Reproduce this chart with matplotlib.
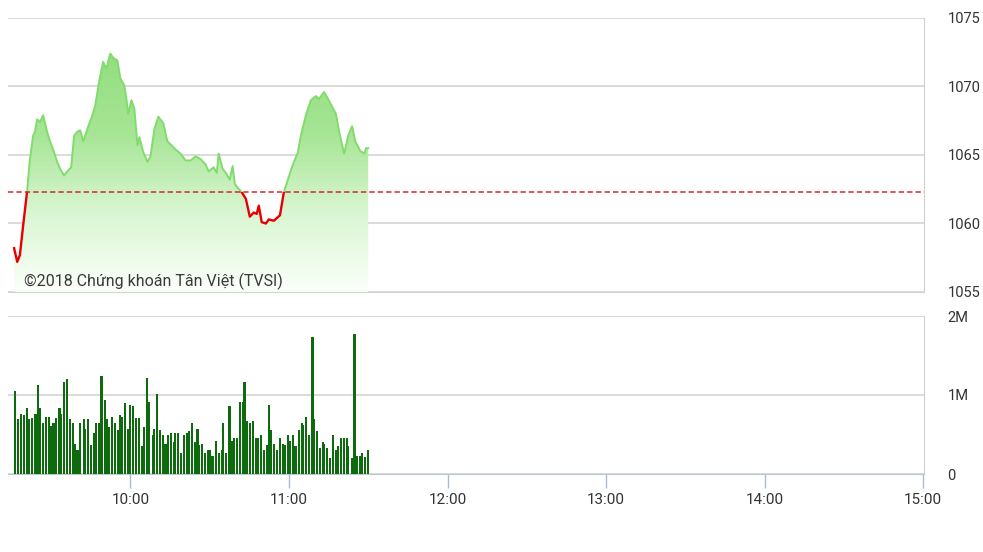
#!/usr/bin/env python3

import numpy as np
import matplotlib
matplotlib.use('Agg')
import matplotlib.pyplot as plt
from matplotlib.colors import LinearSegmentedColormap
from matplotlib.patches import Rectangle

# minutes after 09:00
price_min = [16.0, 17.2, 18.2, 19.4, 20.9, 22.0, 23.2, 23.9, 24.7, 25.8, 27.0,
             28.5, 29.6, 30.8, 32.3, 33.4, 34.9, 36.1, 37.6, 38.7, 39.9, 41.0,
             42.2, 43.7, 45.6, 46.7, 48.2, 49.7, 50.9, 52.4, 53.5, 55.1, 56.2,
             57.7, 58.5, 59.2, 60.4, 61.5, 62.7, 63.4, 64.9, 66.5, 67.6, 69.1,
             70.6, 72.5, 74.0, 75.6, 77.1, 79.0, 80.9, 82.8, 84.7, 86.6, 88.5,
             89.6, 91.5, 92.7, 93.4, 94.9, 96.1, 97.6, 98.7, 99.5, 100.6, 102.1,
             103.7, 105.2, 106.7, 107.8, 108.6, 109.7, 111.3, 112.4, 114.3,
             116.6, 118.1, 119.6, 121.5, 123.4, 124.5, 126.4, 128.3, 130.2,
             131.4, 133.3, 134.8, 136.7, 137.8, 139.0, 140.9, 142.4, 143.9,
             145.1, 147.0, 148.5, 149.2, 150.0]
price = [1058.2, 1057.2, 1057.7, 1059.8, 1062.3, 1064.7, 1066.4, 1066.7, 1067.6,
         1067.4, 1067.9, 1066.7, 1066.0, 1065.4, 1064.5, 1064.0, 1063.5, 1063.8,
         1064.1, 1066.4, 1066.7, 1066.8, 1066.0, 1066.9, 1067.9, 1068.6, 1070.4,
         1071.8, 1071.3, 1072.4, 1072.1, 1071.9, 1070.6, 1070.1, 1069.1, 1068.0,
         1069.0, 1068.4, 1065.7, 1066.3, 1065.2, 1064.5, 1064.9, 1066.9, 1067.8,
         1067.3, 1066.0, 1065.7, 1065.4, 1065.1, 1064.6, 1064.6, 1064.9, 1064.7,
         1064.3, 1063.8, 1064.1, 1063.7, 1065.1, 1064.0, 1063.7, 1063.2, 1064.2,
         1062.9, 1062.6, 1062.3, 1061.8, 1060.5, 1060.8, 1060.7, 1061.3, 1060.1,
         1060.0, 1060.3, 1060.2, 1060.6, 1062.3, 1063.2, 1064.3, 1065.2, 1066.4,
         1067.9, 1069.0, 1069.3, 1069.1, 1069.6, 1069.1, 1068.4, 1068.0, 1066.7,
         1065.1, 1066.4, 1067.1, 1066.0, 1065.3, 1065.1, 1065.5, 1065.5]
ref_price = 1062.3

vol_min = [16.5, 17.6, 18.7, 19.9, 20.8, 21.8, 22.8, 24.1, 25.2, 25.7, 26.8,
           28.0, 29.1, 29.8, 30.9, 32.0, 33.2, 33.7, 34.8, 36.0, 37.1, 38.2,
           38.9, 40.0, 41.1, 42.3, 42.9, 43.9, 45.1, 46.2, 47.0, 48.0, 49.1,
           50.3, 51.3, 51.9, 53.0, 54.1, 55.2, 56.0, 57.0, 58.1, 59.2, 59.9,
           60.9, 62.0, 63.2, 64.4, 65.1, 66.2, 67.2, 68.5, 69.1, 70.1, 71.1,
           72.3, 73.3, 74.3, 75.3, 76.5, 77.0, 78.1, 79.1, 80.3, 81.3, 82.2,
           83.2, 84.3, 85.4, 86.1, 87.2, 88.4, 89.4, 90.1, 91.1, 92.3, 93.5,
           94.6, 95.2, 96.2, 97.5, 98.5, 99.2, 100.4, 101.5, 102.7, 103.2,
           104.3, 105.4, 106.5, 107.6, 108.2, 109.4, 110.6, 111.8, 112.3,
           113.3, 114.4, 115.6, 116.5, 117.6, 118.5, 119.7, 120.4, 121.5,
           122.5, 123.7, 124.8, 125.4, 126.5, 127.7, 128.9, 129.4, 130.5,
           131.6, 132.8, 133.3, 134.4, 135.6, 136.8, 138.0, 138.6, 139.7,
           140.8, 141.9, 142.5, 143.7, 144.8, 145.9, 147.0, 147.6, 148.7, 149.9]
volume = [1.05, 0.69, 0.76, 0.75, 0.84, 0.69, 0.71, 0.76, 1.13, 0.84, 0.64,
          0.72, 0.72, 0.61, 0.64, 0.71, 0.84, 0.76, 1.16, 1.20, 0.69, 0.64,
          0.38, 0.30, 0.64, 0.69, 0.57, 0.69, 0.37, 0.52, 0.65, 0.65, 1.24,
          0.94, 0.69, 0.60, 0.72, 0.65, 0.56, 0.75, 0.72, 0.90, 0.57, 0.87,
          0.86, 0.71, 0.71, 0.35, 0.60, 1.21, 0.91, 0.49, 0.57, 1.01, 0.56,
          0.49, 0.38, 0.50, 0.52, 0.41, 0.52, 0.52, 0.27, 0.50, 0.52, 0.54,
          0.64, 0.41, 0.57, 0.37, 0.38, 0.27, 0.30, 0.30, 0.23, 0.42, 0.27,
          0.31, 0.64, 0.26, 0.86, 0.42, 0.46, 0.45, 0.91, 0.91, 1.16, 0.67,
          0.64, 0.67, 0.45, 0.46, 0.49, 0.31, 0.37, 0.87, 0.56, 0.38, 0.31,
          0.46, 0.38, 0.37, 0.49, 0.42, 0.50, 0.35, 0.56, 0.65, 0.62, 0.72,
          0.49, 1.73, 0.69, 0.54, 0.33, 0.41, 0.38, 0.33, 0.20, 0.50, 0.31,
          0.35, 0.46, 0.45, 0.46, 0.35, 0.20, 1.77, 0.23, 0.23, 0.27, 0.22, 0.31]

hour_ticks = [60, 120, 180, 240, 300, 360]
hour_labels = ['10:00', '11:00', '12:00', '13:00', '14:00', '15:00']
price_ticks = [1055, 1060, 1065, 1070, 1075]
vol_ticks = [0, 1, 2]
vol_labels = ['0', '1M', '2M']

XMIN, XMAX = 13.7, 360.3
GRID = '#d4d4d4'
TXT = '#333333'

plt.rcParams['font.family'] = ['Roboto', 'DejaVu Sans']

fig = plt.figure(figsize=(9.83, 5.52), dpi=100)
ax1 = fig.add_axes([8 / 983, 1 - 292 / 552, 916 / 983, 274 / 552])
ax2 = fig.add_axes([8 / 983, 1 - 474 / 552, 916 / 983, 158 / 552])

# ---- price panel
pmax = max(price)
grad = np.linspace(0, 1, 256).reshape(-1, 1)
cmap = LinearSegmentedColormap.from_list(
    'g', ['#fbfffa', '#d9f6d2', '#a6e594', '#93de80'])
im = ax1.imshow(grad, extent=[XMIN, XMAX, 1055, pmax], origin='lower',
                aspect='auto', cmap=cmap, zorder=1, interpolation='bilinear')
fill = ax1.fill_between(price_min, price, 1055, facecolor='none',
                        edgecolor='none')
im.set_clip_path(fill.get_paths()[0], transform=ax1.transData)

green, = ax1.plot(price_min, price, color='#80dc6c', lw=1.4, zorder=3)
red, = ax1.plot(price_min, price, color='#e60000', lw=1.7, zorder=3)
green.set_clip_path(Rectangle((XMIN, ref_price), XMAX - XMIN, 30,
                              transform=ax1.transData))
red.set_clip_path(Rectangle((XMIN, 1040), XMAX - XMIN, ref_price - 1040,
                            transform=ax1.transData))
ax1.axhline(ref_price, color='#d8282a', lw=1.1, dashes=(3.5, 2), zorder=4)

ax1.text(0.0175, 0.04, '\u00a92018 Ch\u1ee9ng kho\u00e1n T\u00e2n Vi\u1ec7t (TVSI)',
         transform=ax1.transAxes, fontsize=11.5, color='#3a3a3a',
         ha='left', va='center', zorder=5)

ax1.set_xlim(XMIN, XMAX)
ax1.set_ylim(1055, 1075)
ax1.set_yticks(price_ticks)
ax1.set_xticks([])
ax1.grid(axis='y', color=GRID, lw=1.2, zorder=0)
ax1.set_axisbelow(True)

# ---- volume panel
ax2.bar(vol_min, volume, width=0.8, color='#0d6a0d', zorder=3)
ax2.set_xlim(XMIN, XMAX)
ax2.set_ylim(0, 2)
ax2.set_yticks(vol_ticks)
ax2.set_yticklabels(vol_labels)
ax2.set_xticks(hour_ticks)
ax2.set_xticklabels(hour_labels)
ax2.grid(axis='y', color=GRID, lw=1.2, zorder=0)
ax2.set_axisbelow(True)
ax2.tick_params(axis='x', length=10, width=1, color='#a9bdd2', pad=4,
                labelsize=11, labelcolor=TXT)

for ax in (ax1, ax2):
    ax.yaxis.tick_right()
    ax.tick_params(axis='y', length=0, pad=17, labelsize=10.5, labelcolor=TXT)
    for lab in ax.get_yticklabels():
        lab.set_horizontalalignment('left')
    ax.spines['left'].set_visible(False)
    ax.spines['top'].set_visible(False)
    ax.spines['right'].set_color('#d0d0d0')
    ax.spines['bottom'].set_color(GRID)
    ax.set_facecolor('white')
ax2.spines['bottom'].set_color('#b8c8d8')

fig.savefig('out.png', dpi=100)
